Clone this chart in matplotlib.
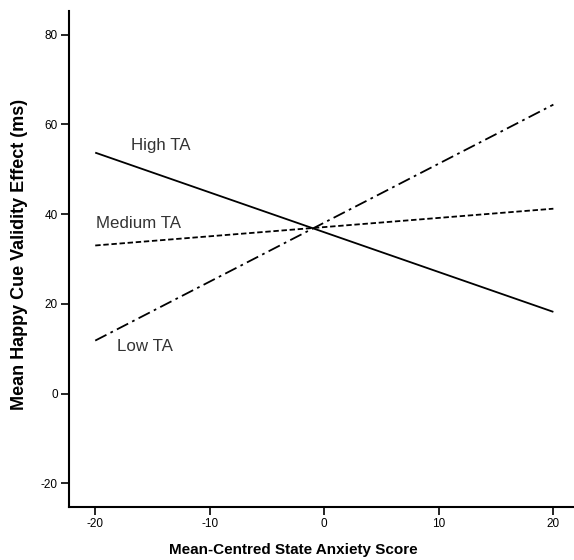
import matplotlib.pyplot as plt
import numpy as np

plt.rcParams['font.family'] = ['Liberation Sans', 'DejaVu Sans']
plt.rcParams['axes.unicode_minus'] = False

# simple slopes at -20 and +20 of mean-centred state anxiety
x = [-20, 20]
high_ta = [53.7, 18.2]
medium_ta = [33.0, 41.2]
low_ta = [11.8, 64.4]

fig = plt.figure(figsize=(5.74, 5.6), dpi=100)
ax = fig.add_axes([0.120, 0.0946, 0.880, 0.886])

ax.plot(x, high_ta, color='k', lw=1.3, solid_capstyle='butt')
ax.plot(x, medium_ta, color='k', lw=1.3, dashes=(3, 1.5))
ax.plot(x, low_ta, color='k', lw=1.3, dashes=(7, 2.5, 1.5, 2.5))

ax.text(-16.9, 55.3, 'High TA', fontsize=12.2, color='#333333', va='center')
ax.text(-19.9, 38.0, 'Medium TA', fontsize=12.2, color='#333333', va='center')
ax.text(-18.1, 10.4, 'Low TA', fontsize=12.2, color='#333333', va='center')

ax.set_xlim(-22.3, 21.8)
ax.set_ylim(-25.3, 85.3)
ax.set_xticks([-20, -10, 0, 10, 20])
ax.set_yticks([-20, 0, 20, 40, 60, 80])

for s in ['top', 'right']:
    ax.spines[s].set_visible(False)
for s in ['left', 'bottom']:
    ax.spines[s].set_linewidth(1.5)
ax.tick_params(direction='out', length=6, width=1.2, labelsize=8.5, pad=2)

ax.set_xlabel('Mean-Centred State Anxiety Score', fontsize=11, fontweight='bold')
ax.set_ylabel('Mean Happy Cue Validity Effect (ms)', fontsize=13, fontweight='bold')
ax.xaxis.set_label_coords(0.444, -0.072)
ax.yaxis.set_label_coords(-0.081, 0.51)

plt.savefig('out.png', dpi=100)
